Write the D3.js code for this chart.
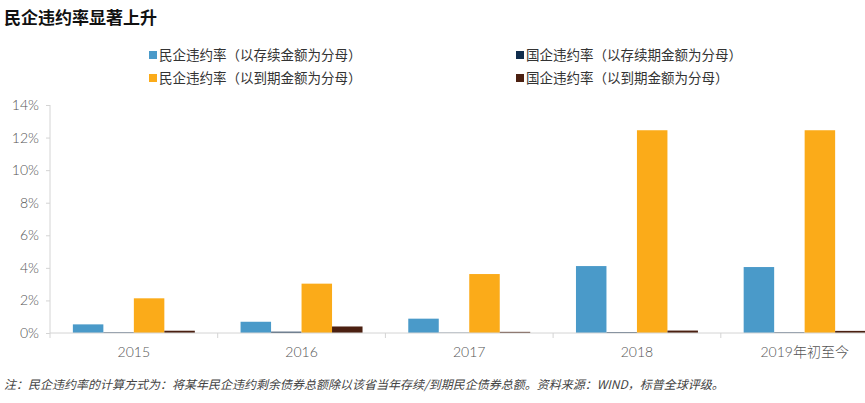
<!DOCTYPE html>
<html>
<head>
<meta charset="utf-8">
<script src="https://cdn.jsdelivr.net/npm/d3@7"></script>
<style>
    body { margin: 0; background: #fff; font-family: "Noto Sans", "Noto Sans CJK SC", sans-serif; }
    .axis path, .axis line { stroke: #d4d4d4; }
    .axis text { fill: #555; font-size: 14px; font-family: "Lato", "Noto Sans CJK SC", sans-serif; font-weight: 300; }
</style>
</head>
<body>
<div id="chart"></div>
<script>
// categories and series (percent)
var years = ["2015", "2016", "2017", "2018", "2019年初至今"];
var seriesNames = [
    "民企违约率（以存续金额为分母）",
    "国企违约率（以存续期金额为分母）",
    "民企违约率（以到期金额为分母）",
    "国企违约率（以到期金额为分母）"
];
var privOutstanding = [0.53, 0.69, 0.88, 4.11, 4.05];
var soeOutstanding = [0.04, 0.08, 0.02, 0.05, 0.04];
var privMaturity = [2.13, 3.03, 3.62, 12.45, 12.45];
var soeMaturity = [0.14, 0.40, 0.07, 0.15, 0.13];
var yTicks = [0, 2, 4, 6, 8, 10, 12, 14];
var colors = ["#4a9ac9", "#0f2d4d", "#fbab19", "#4b2011"];

var W = 865, H = 403;
var margin = { top: 105, left: 50, bottom: 70 };
var plotH = H - margin.top - margin.bottom;
var bandW = 167.7;

var svg = d3.select("#chart").append("svg")
    .attr("width", W)
    .attr("height", H);

// title
svg.append("text")
    .attr("x", 4).attr("y", 24)
    .style("font-family", "'Noto Sans CJK SC', sans-serif")
    .style("font-weight", "bold")
    .style("font-size", "17px")
    .attr("fill", "#111")
    .text("民企违约率显著上升");

// legend
var legendPos = [[149, 55], [516, 55], [149, 78], [516, 78]];
seriesNames.forEach(function(name, i) {
    var g = svg.append("g")
        .attr("transform", "translate(" + legendPos[i][0] + "," + legendPos[i][1] + ")");
    g.append("rect")
        .attr("x", 0).attr("y", -4)
        .attr("width", 8).attr("height", 8)
        .attr("fill", colors[i]);
    g.append("text")
        .attr("x", 10).attr("y", 5)
        .style("font-family", "'Noto Sans CJK SC', sans-serif")
        .style("font-size", "13.5px")
        .attr("fill", "#333")
        .text(name);
});

var data = years.map(function(y, i) {
    return { year: y, values: [privOutstanding[i], soeOutstanding[i], privMaturity[i], soeMaturity[i]] };
});

var x = d3.scaleBand()
    .domain(years)
    .range([margin.left, margin.left + bandW * years.length])
    .paddingInner(0)
    .paddingOuter(0);

var xInner = d3.scaleBand()
    .domain(d3.range(4))
    .range([0, x.bandwidth()])
    .paddingOuter(0.75)
    .paddingInner(0);

var y = d3.scaleLinear()
    .domain([0, 14])
    .range([margin.top + plotH, margin.top]);

// y axis
var yAxis = d3.axisLeft(y)
    .tickValues(yTicks)
    .tickSize(4)
    .tickPadding(7)
    .tickFormat(function(d) { return d + "%"; });

var gy = svg.append("g")
    .attr("class", "axis")
    .attr("transform", "translate(" + margin.left + ",0)")
    .call(yAxis);
gy.select(".domain").attr("d", "M0," + y(14) + "V" + y(0));

// bars
var groups = svg.selectAll(".grp")
    .data(data)
    .enter().append("g")
    .attr("class", "grp")
    .attr("transform", function(d) { return "translate(" + x(d.year) + ",0)"; });

groups.selectAll("rect")
    .data(function(d) { return d.values; })
    .enter().append("rect")
    .attr("x", function(d, i) { return xInner(i); })
    .attr("y", function(d) { return y(d); })
    .attr("width", xInner.bandwidth())
    .attr("height", function(d) { return y(0) - y(d); })
    .attr("fill", function(d, i) { return colors[i]; });

// x axis
var gx = svg.append("g")
    .attr("class", "axis")
    .attr("transform", "translate(0," + y(0) + ")");
gx.append("line")
    .attr("x1", margin.left).attr("x2", W)
    .attr("y1", 0).attr("y2", 0)
    .attr("stroke", "#d4d4d4");
gx.selectAll(".div")
    .data(years)
    .enter().append("line")
    .attr("x1", function(d) { return x(d); })
    .attr("x2", function(d) { return x(d); })
    .attr("y1", 0).attr("y2", 5)
    .attr("stroke", "#d4d4d4");
gx.selectAll(".lbl")
    .data(years)
    .enter().append("text")
    .attr("x", function(d) { return x(d) + x.bandwidth() / 2; })
    .attr("y", 24)
    .attr("text-anchor", "middle")
    .text(function(d) { return d; });

// footnote
svg.append("text")
    .attr("x", 4).attr("y", 389)
    .style("font-family", "'Noto Sans CJK SC', sans-serif")
    .style("font-style", "italic")
    .style("font-size", "12px")
    .attr("fill", "#444")
    .text("注：民企违约率的计算方式为：将某年民企违约剩余债券总额除以该省当年存续/到期民企债券总额。资料来源：WIND，标普全球评级。");
</script>
</body>
</html>
